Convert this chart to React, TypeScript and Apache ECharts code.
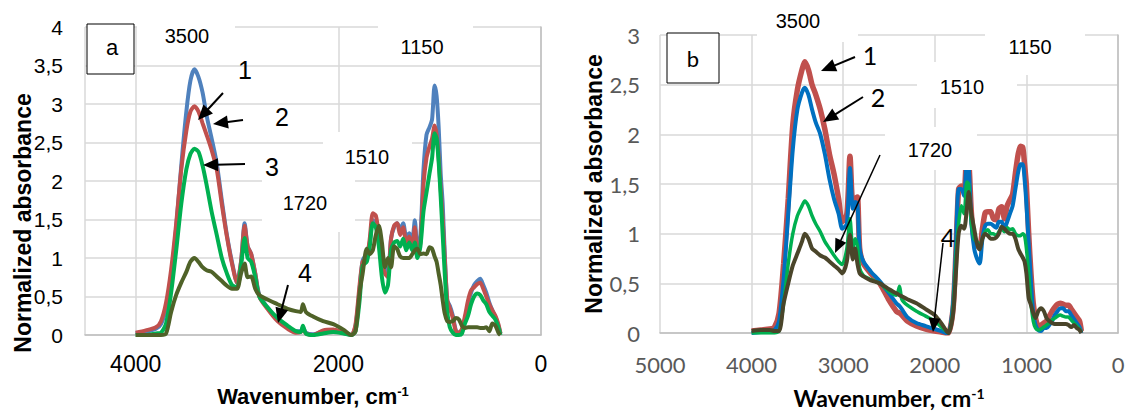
import React, { useEffect, useRef } from "react";
import * as echarts from "echarts";

// ---------- Panel a data ----------
const waveA = [4000, 3900, 3800, 3750, 3700, 3650, 3600, 3550, 3500, 3460, 3420, 3380, 3340, 3300, 3250, 3200, 3150, 3100, 3050, 3000, 2960, 2925, 2895, 2860, 2820, 2780, 2700, 2600, 2500, 2420, 2370, 2350, 2320, 2250, 2150, 2050, 1950, 1870, 1830, 1790, 1760, 1720, 1690, 1660, 1630, 1600, 1570, 1540, 1510, 1480, 1450, 1420, 1390, 1360, 1330, 1300, 1270, 1245, 1220, 1190, 1160, 1130, 1100, 1075, 1050, 1030, 1010, 990, 970, 950, 925, 900, 870, 840, 810, 780, 750, 720, 690, 660, 630, 600, 570, 540, 510, 480, 450, 420, 400];
const a1 = [0.02, 0.04, 0.08, 0.14, 0.35, 0.75, 1.4, 2.2, 2.9, 3.3, 3.45, 3.35, 3.15, 2.85, 2.55, 2.23, 1.75, 1.3, 0.95, 0.68, 0.95, 1.45, 1.15, 1.05, 0.8, 0.52, 0.36, 0.2, 0.1, 0.05, 0.05, 0.1, 0.03, 0.01, 0.05, 0.06, 0.03, 0.0, 0.12, 0.6, 0.97, 1.05, 1.2, 1.49, 1.45, 1.38, 1.0, 0.88, 0.8, 1.25, 1.4, 1.45, 1.38, 1.45, 1.27, 1.32, 1.25, 1.49, 1.1, 1.3, 2.14, 2.6, 2.7, 2.8, 3.24, 3.1, 2.7, 2.1, 1.7, 1.06, 0.45, 0.38, 0.25, 0.06, 0.03, 0.05, 0.2, 0.4, 0.55, 0.65, 0.7, 0.73, 0.65, 0.55, 0.42, 0.32, 0.23, 0.12, 0.02];
const a2 = [0.03, 0.06, 0.1, 0.18, 0.42, 0.85, 1.45, 2.15, 2.65, 2.9, 2.97, 2.9, 2.75, 2.6, 2.4, 2.15, 1.7, 1.28, 0.93, 0.68, 0.95, 1.42, 1.15, 1.05, 0.8, 0.5, 0.34, 0.18, 0.08, 0.03, 0.04, 0.08, 0.02, 0.0, 0.06, 0.07, 0.03, 0.0, 0.14, 0.65, 0.95, 1.0, 1.25, 1.58, 1.55, 1.3, 0.95, 0.8, 0.75, 1.25, 1.42, 1.45, 1.3, 1.4, 1.2, 1.28, 1.15, 1.4, 1.02, 1.2, 1.95, 2.3, 2.45, 2.55, 2.72, 2.6, 2.3, 1.9, 1.5, 1.0, 0.45, 0.35, 0.22, 0.05, 0.03, 0.08, 0.25, 0.45, 0.58, 0.62, 0.66, 0.68, 0.6, 0.5, 0.4, 0.32, 0.25, 0.14, 0.02];
const a3 = [0.0, 0.0, 0.02, 0.03, 0.15, 0.55, 1.1, 1.7, 2.15, 2.35, 2.42, 2.38, 2.2, 1.95, 1.6, 1.3, 1.0, 0.8, 0.65, 0.62, 0.9, 1.26, 1.0, 0.95, 0.75, 0.5, 0.36, 0.22, 0.12, 0.05, 0.04, 0.12, 0.02, 0.0, 0.02, 0.04, 0.02, 0.0, 0.05, 0.45, 0.9, 0.95, 1.15, 1.45, 1.4, 1.15, 0.75, 0.55, 0.65, 1.1, 1.2, 1.22, 1.15, 1.25, 1.1, 1.2, 1.1, 1.2, 1.0, 1.15, 1.6, 1.85, 2.1, 2.3, 2.62, 2.55, 2.25, 1.8, 1.3, 0.8, 0.3, 0.1, 0.03, 0.0, 0.0, 0.02, 0.15, 0.25, 0.4, 0.5, 0.54, 0.52, 0.45, 0.4, 0.3, 0.25, 0.2, 0.1, 0.0];
const a4 = [0.0, 0.0, 0.0, 0.0, 0.02, 0.3, 0.52, 0.68, 0.82, 0.95, 1.0, 0.95, 0.88, 0.84, 0.82, 0.76, 0.7, 0.64, 0.6, 0.6, 0.8, 0.93, 0.75, 0.76, 0.6, 0.52, 0.46, 0.4, 0.34, 0.31, 0.3, 0.4, 0.3, 0.24, 0.18, 0.14, 0.07, 0.0, 0.05, 0.55, 0.8, 1.12, 1.05, 1.1, 1.3, 1.42, 1.2, 0.88, 1.0, 0.88, 1.15, 1.12, 1.02, 1.0, 1.0, 1.0, 1.05, 1.1, 1.12, 1.05, 1.06, 1.05, 1.14, 1.12, 1.02, 0.95, 0.8, 0.65, 0.45, 0.28, 0.18, 0.17, 0.18, 0.22, 0.2, 0.12, 0.09, 0.1, 0.1, 0.1, 0.1, 0.09, 0.09, 0.1, 0.05, 0.15, 0.12, 0.03, 0.0];

// ---------- Panel b data ----------
const waveB = [4000, 3900, 3800, 3750, 3700, 3650, 3600, 3550, 3500, 3450, 3420, 3380, 3340, 3300, 3250, 3200, 3150, 3100, 3050, 3010, 2960, 2926, 2895, 2870, 2845, 2820, 2780, 2700, 2600, 2500, 2420, 2385, 2360, 2300, 2200, 2100, 2000, 1930, 1880, 1850, 1800, 1770, 1740, 1710, 1680, 1650, 1630, 1600, 1570, 1540, 1510, 1480, 1450, 1420, 1390, 1360, 1330, 1300, 1270, 1240, 1210, 1180, 1150, 1120, 1090, 1065, 1040, 1020, 1000, 975, 950, 925, 900, 870, 840, 810, 780, 750, 720, 690, 660, 630, 600, 570, 540, 510, 480, 450, 420, 400];
const b1 = [0.02, 0.03, 0.04, 0.06, 0.2, 0.7, 1.35, 2.1, 2.45, 2.65, 2.73, 2.65, 2.5, 2.4, 2.25, 2.05, 1.8, 1.6, 1.35, 1.12, 1.2, 1.78, 1.3, 1.35, 1.37, 0.85, 0.7, 0.6, 0.5, 0.33, 0.22, 0.2, 0.18, 0.12, 0.07, 0.04, 0.02, 0.01, 0.0, 0.0, 0.25, 0.8, 1.45, 1.48, 1.42, 1.8, 1.76, 1.2, 0.95, 0.88, 0.87, 1.05, 1.21, 1.22, 1.22, 1.15, 1.14, 1.25, 1.27, 1.15, 1.28, 1.34, 1.4, 1.61, 1.8, 1.88, 1.87, 1.7, 1.48, 1.0, 0.6, 0.3, 0.15, 0.07, 0.08, 0.1, 0.12, 0.17, 0.22, 0.26, 0.29, 0.3, 0.29, 0.28, 0.28, 0.24, 0.2, 0.16, 0.12, 0.02];
const b2 = [0.0, 0.01, 0.02, 0.03, 0.12, 0.55, 1.2, 1.85, 2.25, 2.42, 2.47, 2.4, 2.25, 2.12, 2.0, 1.8, 1.55, 1.35, 1.2, 1.05, 1.1, 1.66, 1.25, 1.32, 1.3, 0.85, 0.72, 0.62, 0.52, 0.4, 0.3, 0.27, 0.24, 0.16, 0.1, 0.07, 0.04, 0.02, 0.0, 0.0, 0.3, 0.85, 1.45, 1.45, 1.38, 1.72, 1.68, 1.1, 0.85, 0.75, 0.7, 0.95, 1.08, 1.1, 1.1, 1.08, 1.06, 1.12, 1.12, 1.05, 1.12, 1.2, 1.28, 1.45, 1.62, 1.7, 1.7, 1.55, 1.3, 0.9, 0.5, 0.2, 0.08, 0.03, 0.02, 0.05, 0.05, 0.08, 0.12, 0.18, 0.22, 0.25, 0.25, 0.22, 0.22, 0.18, 0.14, 0.1, 0.06, 0.0];
const b3 = [0.0, 0.0, 0.0, 0.0, 0.02, 0.3, 0.7, 1.0, 1.18, 1.28, 1.33, 1.28, 1.18, 1.1, 1.02, 0.92, 0.85, 0.78, 0.72, 0.69, 0.85, 1.15, 0.85, 0.95, 0.88, 0.65, 0.58, 0.54, 0.5, 0.42, 0.38, 0.47, 0.34, 0.28, 0.22, 0.17, 0.12, 0.06, 0.02, 0.0, 0.25, 0.75, 1.1, 1.28, 1.2, 1.52, 1.5, 1.1, 0.95, 0.92, 0.88, 0.95, 1.02, 1.04, 1.0, 1.0, 0.98, 1.02, 1.05, 1.02, 1.06, 1.04, 1.05, 1.0, 0.98, 0.98, 1.0, 0.98, 0.85, 0.6, 0.3, 0.12, 0.05, 0.03, 0.04, 0.06, 0.08, 0.1, 0.13, 0.15, 0.17, 0.18, 0.17, 0.16, 0.16, 0.13, 0.1, 0.07, 0.04, 0.01];
const b4 = [0.02, 0.03, 0.03, 0.02, 0.02, 0.3, 0.5, 0.68, 0.8, 0.92, 1.0, 0.95, 0.85, 0.82, 0.78, 0.76, 0.72, 0.68, 0.64, 0.6, 0.72, 0.99, 0.74, 0.85, 0.7, 0.6, 0.57, 0.53, 0.5, 0.44, 0.4, 0.38, 0.37, 0.34, 0.3, 0.24, 0.18, 0.1, 0.03, 0.0, 0.2, 0.6, 1.0, 1.08, 1.05, 1.25, 1.42, 1.2, 1.05, 0.9, 0.84, 0.95, 1.0, 0.98, 0.95, 0.95, 0.96, 1.0, 1.07, 1.05, 1.02, 1.0, 1.0, 0.95, 0.85, 0.8, 0.76, 0.72, 0.6, 0.35, 0.28, 0.2, 0.15, 0.22, 0.25, 0.22, 0.15, 0.12, 0.1, 0.09, 0.09, 0.09, 0.09, 0.09, 0.08, 0.06, 0.08, 0.05, 0.03, 0.0];

const yTicksA = [0, 0.5, 1, 1.5, 2, 2.5, 3, 3.5, 4];
const yTicksB = [0, 0.5, 1, 1.5, 2, 2.5, 3];

const colorsA = ["#4f81bd", "#c0504d", "#00b050", "#4f6228"];
const colorsB = ["#c0504d", "#0070c0", "#00b050", "#4a452a"];

const ARIAL = "'Liberation Sans', Arial, sans-serif";
const CALIBRI = "Lato, 'Liberation Sans', sans-serif";

const pairs = (w: number[], v: number[]) => w.map((x, i) => [x, v[i]]);
const comma = (v: number) => String(v).replace(".", ",");
const plain = (v: number) => String(v);

function arrow(x1: number, y1: number, x2: number, y2: number, lw = 2, hl = 15, hw = 6.5) {
  const dx = x2 - x1, dy = y2 - y1;
  const L = Math.hypot(dx, dy);
  const ux = dx / L, uy = dy / L;
  const bx = x2 - ux * hl, by = y2 - uy * hl;
  const px = -uy, py = ux;
  return [
    { type: "line", z: 120, shape: { x1, y1, x2: bx + ux * 2, y2: by + uy * 2 }, style: { stroke: "#000", lineWidth: lw } },
    {
      type: "polygon", z: 120,
      shape: { points: [[x2, y2], [bx + px * hw, by + py * hw], [bx - px * hw, by - py * hw]] },
      style: { fill: "#000" },
    },
  ];
}

function whiteBox(x: number, y: number, w: number, h: number) {
  return { type: "rect", z: 100, shape: { x, y, width: w, height: h }, style: { fill: "#fff" } };
}

function label(text: string, x: number, y: number, fontSize: number, fontFamily = ARIAL, fontWeight = "normal", rotation = 0) {
  return {
    type: "text", z: 110, x, y, rotation,
    style: {
      text, fontSize, fontFamily, fontWeight, fill: "#000",
      align: "center", verticalAlign: "middle",
      textAlign: "center", textVerticalAlign: "middle",
    },
  };
}

export default function App() {
  const ref = useRef<HTMLDivElement>(null);
  useEffect(() => {
    if (!ref.current) return;
    const chart = echarts.init(ref.current, null, { renderer: "svg" });
    const gridLine = { show: true, lineStyle: { color: "#d9d9d9", width: 1.5 } };
    const axLine = { show: true, lineStyle: { color: "#bfbfbf", width: 1.5 } };

    const seriesA = [a1, a2, a3, a4].map((v, i) => ({
      type: "line", xAxisIndex: 0, yAxisIndex: 0, data: pairs(waveA, v),
      showSymbol: false, symbol: "none", smooth: 0.25,
      lineStyle: { color: colorsA[i], width: 4 }, z: 2 + i,
    }));
    const widthsB = [5.5, 4, 3.5, 4];
    const seriesB = [b1, b2, b3, b4].map((v, i) => ({
      type: "line", xAxisIndex: 1, yAxisIndex: 1, data: pairs(waveB, v),
      showSymbol: false, symbol: "none", smooth: 0.25,
      lineStyle: { color: colorsB[i], width: widthsB[i] }, z: 2 + i,
    }));

    const option: any = {
      animation: false,
      backgroundColor: "#fff",
      grid: [
        { left: 85, top: 27, width: 456, height: 308, containLabel: false, outerBoundsMode: "none" },
        { left: 660, top: 35, width: 458, height: 298, containLabel: false, outerBoundsMode: "none" },
      ],
      xAxis: [
        {
          gridIndex: 0, type: "value", min: 0, max: 4500, interval: 2000, inverse: true,
          axisLine: axLine, axisTick: { show: false }, splitLine: gridLine,
          axisLabel: { showMaxLabel: false, margin: 17, fontSize: 23, color: "#000", fontFamily: ARIAL, formatter: plain },
          name: "{t|Wavenumber, cm}{s|-1}", nameLocation: "middle", nameGap: 50,
          nameTextStyle: {
            rich: {
              t: { fontSize: 22, fontWeight: "bold", fontFamily: ARIAL, color: "#000" },
              s: { fontSize: 13, fontWeight: "bold", fontFamily: ARIAL, color: "#000", verticalAlign: "top" },
            },
          },
        },
        {
          gridIndex: 1, type: "value", min: 0, max: 5000, interval: 1000, inverse: true,
          axisLine: axLine, axisTick: { show: false }, splitLine: gridLine,
          axisLabel: { margin: 20, fontSize: 22, color: "#595959", fontFamily: CALIBRI, formatter: plain },
          name: "{t|Wavenumber, cm}{s|-1}", nameLocation: "middle", nameGap: 53,
          nameTextStyle: {
            rich: {
              t: { fontSize: 23, fontWeight: "bold", fontFamily: CALIBRI, color: "#000" },
              s: { fontSize: 14, fontWeight: "bold", fontFamily: CALIBRI, color: "#000", verticalAlign: "top" },
            },
          },
        },
      ],
      yAxis: [
        {
          gridIndex: 0, type: "value", min: yTicksA[0], max: yTicksA[yTicksA.length - 1], interval: 0.5,
          axisLine: axLine, axisTick: { show: false }, splitLine: gridLine,
          axisLabel: { margin: 22, fontSize: 21, color: "#000", fontFamily: ARIAL, formatter: comma },
        },
        {
          gridIndex: 1, type: "value", min: yTicksB[0], max: yTicksB[yTicksB.length - 1], interval: 0.5,
          axisLine: axLine, axisTick: { show: false }, splitLine: gridLine,
          axisLabel: { margin: 20, fontSize: 22, color: "#595959", fontFamily: CALIBRI, formatter: comma },
          name: "Normalized absorbance", nameLocation: "middle", nameGap: 55, nameRotate: 90,
          nameTextStyle: { fontSize: 23, fontWeight: "bold", fontFamily: ARIAL, color: "#000" },
        },
      ],
      series: [...seriesA, ...seriesB],
      graphic: [
        // panel a
        label("Normalized absorbance", 23, 223, 23, ARIAL, "bold", Math.PI / 2),
        { type: "rect", z: 105, shape: { x: 87, y: 24, width: 47, height: 50 }, style: { fill: "#fff", stroke: "#000", lineWidth: 1 } },
        label("a", 112, 47, 22),
        whiteBox(137, 12, 98, 46), label("3500", 187, 36, 20),
        whiteBox(378, 22, 95, 42), label("1150", 422, 47, 20),
        whiteBox(323, 132, 89, 48), label("1510", 367, 157, 20),
        whiteBox(262, 180, 93, 52), label("1720", 305, 203, 20),
        label("1", 245, 70, 25), label("2", 282, 117, 25), label("3", 272, 167, 25), label("4", 305, 273, 25),
        ...arrow(223, 93, 198, 120, 2),
        ...arrow(243, 120, 213, 124, 2),
        ...arrow(245, 164, 203, 165, 2),
        ...arrow(288, 285, 278, 323, 2),
        // panel b
        { type: "rect", z: 105, shape: { x: 667, y: 33, width: 52, height: 50 }, style: { fill: "#fff", stroke: "#000", lineWidth: 1 } },
        label("b", 693, 58, 22, CALIBRI),
        whiteBox(757, 2, 101, 40), label("3500", 798, 21, 20),
        whiteBox(985, 25, 100, 50), label("1150", 1030, 47, 20),
        whiteBox(917, 62, 100, 46), label("1510", 962, 87, 20),
        whiteBox(885, 127, 92, 43), label("1720", 930, 150, 20),
        label("1", 870, 55, 25, CALIBRI), label("2", 878, 97, 25, CALIBRI), label("4", 948, 237, 25, CALIBRI),
        ...arrow(855, 57, 821, 71, 2),
        ...arrow(863, 97, 823, 122, 2),
        ...arrow(880, 155, 835, 253, 1.5, 14, 6),
        ...arrow(943, 243, 933, 332, 1.5, 14, 6),
      ],
    };
    chart.setOption(option);
    return () => chart.dispose();
  }, []);
  return (
    <div
      ref={ref}
      style={{ position: "fixed", left: 0, top: 0, width: 1126, height: 412, background: "#fff" }}
    />
  );
}
